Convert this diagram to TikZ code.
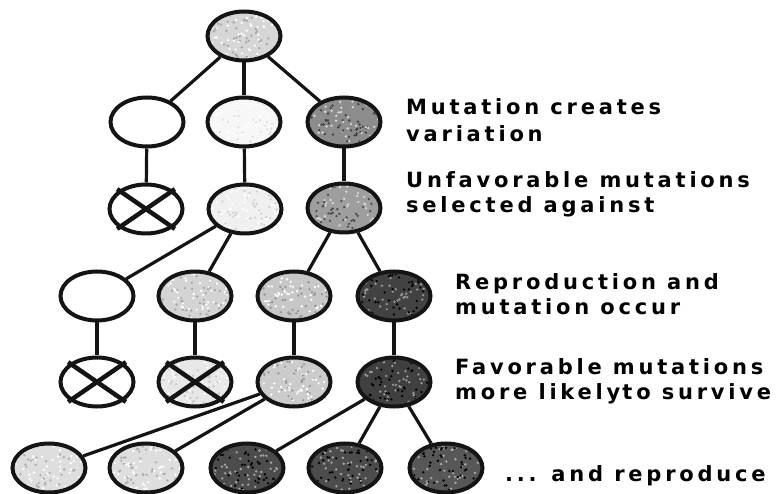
\documentclass[tikz,border=0pt]{standalone}
\usepackage{fontspec}
\setmainfont{DejaVu Sans}
\newfontfamily\lblfont{DejaVu Sans}[LetterSpace=18]
\usetikzlibrary{shapes.geometric}
\definecolor{ink}{HTML}{141414}
\tikzset{
  x=1pt, y=-1pt,
  org/.style={ellipse, draw=ink, line width=4pt, minimum width=73pt, minimum height=49pt, inner sep=0pt},
  link/.style={draw=ink, line width=3.2pt},
  xmark/.style={draw=ink, line width=4.5pt, shorten <=-2pt, shorten >=-2pt},
  lbl/.style={anchor=base west, inner sep=0pt, font=\fontsize{21}{26}\selectfont\lblfont\bfseries, text=black}
}
\begin{document}
\begin{tikzpicture}
\pgfmathsetseed{7}
\useasboundingbox (0,0) rectangle (777,494);
% row 1
\node[org, fill=black!16] (r1) at (244,36) {};
% row 2
\node[org, fill=white] (r2a) at (147,122) {};
\node[org, fill=black!3] (r2b) at (244,122) {};
\node[org, fill=black!45] (r2c) at (344,122) {};
% row 3
\node[org, fill=white] (r3a) at (146,209) {};
\node[org, fill=black!6] (r3b) at (245,209) {};
\node[org, fill=black!38] (r3c) at (344,208) {};
% row 4
\node[org, fill=white] (r4a) at (97,296) {};
\node[org, fill=black!17] (r4b) at (195,296) {};
\node[org, fill=black!22] (r4c) at (294,296) {};
\node[org, fill=black!74] (r4d) at (394,296) {};
% row 5
\node[org, fill=white] (r5a) at (97,382) {};
\node[org, fill=black!9] (r5b) at (195,382) {};
\node[org, fill=black!20] (r5c) at (294,382) {};
\node[org, fill=black!75] (r5d) at (394,382) {};
% row 6
\node[org, fill=black!13] (r6a) at (49,468) {};
\node[org, fill=black!13] (r6b) at (146,468) {};
\node[org, fill=black!70] (r6c) at (247,468) {};
\node[org, fill=black!70] (r6d) at (345,468) {};
\node[org, fill=black!66] (r6e) at (446,468) {};
% speckled texture inside the filled ellipses
\foreach \n/\lo/\hi in {r1/black!35/white, r2b/black!12/white, r2c/black!75/white!85!black,
    r3b/black!18/white, r3c/black!70/white!85!black, r4b/black!35/white, r4c/black!42/white,
    r4d/black/black!40, r5b/black!22/white, r5c/black!40/white, r5d/black/black!40,
    r6a/black!32/white, r6b/black!32/white, r6c/black/black!35, r6d/black/black!35, r6e/black/black!32} {
  \begin{scope}
    \clip (\n.center) ellipse (34pt and 22pt);
    \foreach \i in {1,...,45} {
      \pgfmathsetmacro\dx{rand*34}
      \pgfmathsetmacro\dy{rand*22}
      \fill[\lo, shift={(\n.center)}] (\dx,\dy) circle (1.3pt);
      \pgfmathsetmacro\ex{rand*34}
      \pgfmathsetmacro\ey{rand*22}
      \fill[\hi, shift={(\n.center)}] (\ex,\ey) circle (1.3pt);
    }
  \end{scope}
}
% connectors
\draw[link] (r1) -- (r2a);
\draw[link] (r1) -- (r2b);
\draw[link] (r1) -- (r2c);
\draw[link] (r2a) -- (r3a);
\draw[link] (r2b) -- (r3b);
\draw[link] (r2c) -- (r3c);
\draw[link] (r3b) -- (r4a);
\draw[link] (r3b) -- (r4b);
\draw[link] (r3c) -- (r4c);
\draw[link] (r3c) -- (r4d);
\draw[link] (r4a) -- (r5a);
\draw[link] (r4b) -- (r5b);
\draw[link] (r4c) -- (r5c);
\draw[link] (r4d) -- (r5d);
\draw[link] (r5c) -- (r6a);
\draw[link] (r5c) -- (r6b);
\draw[link] (r5d) -- (r6c);
\draw[link] (r5d) -- (r6d);
\draw[link] (r5d) -- (r6e);
% crosses
\foreach \n in {r3a, r5a, r5b} {
  \draw[xmark] (\n.north west) -- (\n.south east);
  \draw[xmark] (\n.north east) -- (\n.south west);
}
% labels
\node[lbl] (t1a) at (406,115) {Mutation creates};
\node[lbl] (t1b) at (406,142) {variation};
\node[lbl] (t2a) at (406,188) {Unfavorable mutations};
\node[lbl] (t2b) at (406,213) {selected against};
\node[lbl] (t3a) at (455,290) {Reproduction and};
\node[lbl] (t3b) at (455,315) {mutation occur};
\node[lbl] (t4a) at (455,375) {Favorable mutations};
\node[lbl] (t4b) at (455,400) {more likely\hspace{-9pt} to survive};
\node[lbl] (t5) at (505,482) {... and reproduce};
\end{tikzpicture}
\end{document}
